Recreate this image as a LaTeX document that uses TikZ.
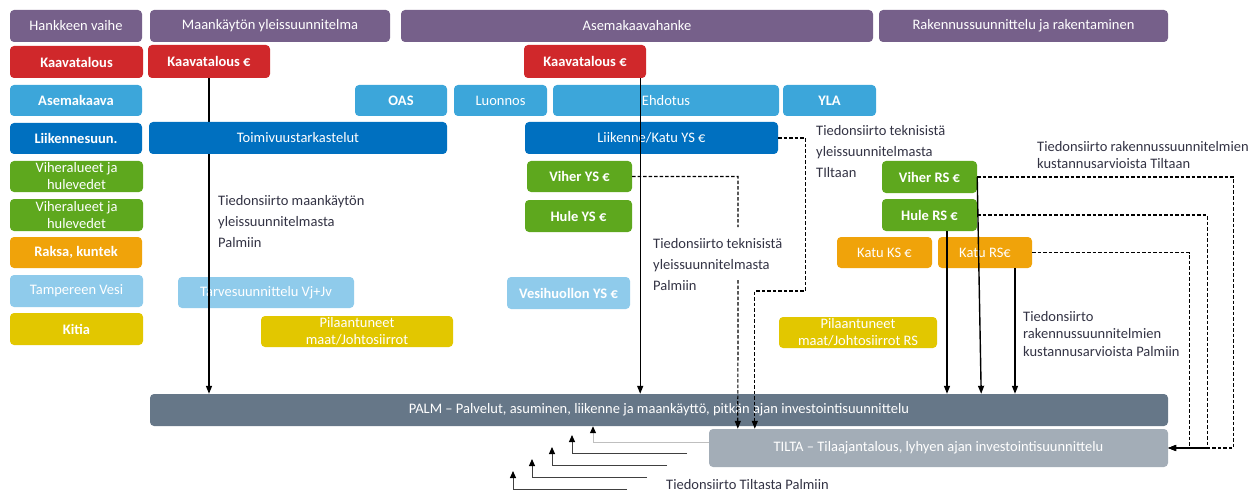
\documentclass[tikz,border=0pt]{standalone}
\usepackage{fontspec}
\setmainfont{Carlito}
\usetikzlibrary{arrows.meta}

\definecolor{phase}{RGB}{118,96,138}
\definecolor{kaava}{RGB}{208,40,43}
\definecolor{asema}{RGB}{60,166,218}
\definecolor{liik}{RGB}{0,112,192}
\definecolor{viher}{RGB}{94,168,30}
\definecolor{raksa}{RGB}{240,163,10}
\definecolor{vesi}{RGB}{143,203,235}
\definecolor{kitia}{RGB}{226,199,0}
\definecolor{palm}{RGB}{102,119,136}
\definecolor{tilta}{RGB}{163,173,183}
\definecolor{notetext}{RGB}{51,51,68}

\begin{document}
\begin{tikzpicture}[x=1pt, y=-1pt,
    box/.style={rounded corners=4pt, text=white, inner sep=0pt, align=center,
      minimum height=32pt, font=\fontsize{14.5}{17}\selectfont},
    bbox/.style={box, font=\fontsize{14.5}{17}\selectfont\bfseries},
    arr/.style={line width=1.4pt, -{Triangle[length=8pt,width=6pt]}},
    dasharr/.style={line width=1.2pt, dash pattern=on 3.5pt off 2pt,
      -{Triangle[length=8pt,width=6pt]}},
    stair/.style={line width=1pt, draw=darkgray, -{Triangle[length=7pt,width=6pt,black]}},
    note/.style={align=left, inner sep=0pt, anchor=north west, text=notetext,
      font=\fontsize{14.5}{21}\selectfont}]

  \useasboundingbox (0,0) rectangle (1256,492);

  % hankkeen vaiheet
  \node[box, fill=phase, minimum width=132pt] (vaihe) at (76,26) {Hankkeen vaihe};
  \node[box, fill=phase, minimum width=240pt] (mys) at (270,26) {Maankäytön yleissuunnitelma};
  \node[box, fill=phase, minimum width=472pt] (akhanke) at (637,26) {Asemakaavahanke};
  \node[box, fill=phase, minimum width=289pt] (raken) at (1023.5,26) {Rakennussuunnittelu ja rakentaminen};

  % vasen sarake
  \node[bbox, fill=kaava, minimum width=133pt] (kaavatal) at (76.5,62) {Kaavatalous};
  \node[bbox, fill=asema, minimum width=132pt, minimum height=31pt] (asemakaava) at (76,100.5) {Asemakaava};
  \node[bbox, fill=liik, minimum width=132pt, minimum height=31pt] (liikenne) at (76,138.5) {Liikennesuun.};
  \node[box, fill=viher, minimum width=133pt, minimum height=31pt] (viher1) at (76.5,176.5) {Viheralueet ja\\hulevedet};
  \node[box, fill=viher, minimum width=133pt] (viher2) at (76.5,215) {Viheralueet ja\\hulevedet};
  \node[bbox, fill=raksa, minimum width=132pt, minimum height=31pt] (raksa) at (76,252.5) {Raksa, kuntek};
  \node[box, fill=vesi, minimum width=133pt] (tvesi) at (76.5,291) {Tampereen Vesi};
  \node[bbox, fill=kitia, minimum width=133pt] (kitia) at (76.5,329) {Kitia};

  % maankaytön yleissuunnitelma
  \node[bbox, fill=kaava, minimum width=122pt, minimum height=33pt] (kaavaA) at (209,61.5) {Kaavatalous €};
  \node[box, fill=vesi, minimum width=176pt, minimum height=31pt] (tarve) at (266,292.5) {Tarvesuunnittelu Vj+Jv};
  \node[box, fill=kitia, minimum width=192pt, minimum height=31pt] (pilaA) at (357,331.5) {Pilaantuneet\\maat/Johtosiirrot};

  % asemakaavahanke
  \node[bbox, fill=kaava, minimum width=122pt, minimum height=33pt] (kaavaB) at (585,61.5) {Kaavatalous €};
  \node[bbox, fill=asema, minimum width=92pt, minimum height=31pt] (oas) at (401,100.5) {OAS};
  \node[box, fill=asema, minimum width=93pt, minimum height=31pt] (luonnos) at (500.5,100.5) {Luonnos};
  \node[box, fill=asema, minimum width=226pt, minimum height=31pt] (ehdotus) at (666,100.5) {Ehdotus};
  \node[bbox, fill=asema, minimum width=93pt, minimum height=31pt] (yla) at (829.5,100.5) {YLA};
  \node[box, fill=liik, minimum width=253pt] (katuys) at (651.5,138) {Liikenne/Katu YS €};
  \node[bbox, fill=viher, minimum width=105pt, minimum height=31pt] (viherys) at (579.5,176.5) {Viher YS €};
  \node[bbox, fill=viher, minimum width=107pt] (hulys) at (578.5,216) {Hule YS €};
  \node[bbox, fill=vesi, minimum width=123pt] (vhys) at (568.5,293) {Vesihuollon YS €};

  % rakennussuunnittelu
  \node[bbox, fill=viher, minimum width=95pt] (viherrs) at (929.5,177) {Viher RS €};
  \node[bbox, fill=viher, minimum width=95pt] (hulrs) at (929.5,215) {Hule RS €};
  \node[box, fill=raksa, minimum width=95pt, minimum height=31pt] (katuks) at (884.5,252.5) {Katu KS €};
  \node[box, fill=raksa, minimum width=94pt, minimum height=31pt] (katurs) at (985,252.5) {Katu RS€};
  \node[box, fill=kitia, minimum width=158pt, minimum height=31pt] (pilaB) at (858,332.5) {Pilaantuneet\\maat/Johtosiirrot RS};

  % PALM ja TILTA
  \node[box, fill=palm, minimum width=1018pt] (palm) at (659,410) {PALM -- Palvelut, asuminen, liikenne ja maankäyttö, pitkän ajan investointisuunnittelu};
  \node[box, fill=tilta, minimum width=459pt, minimum height=38pt] (tilta) at (938.5,448) {TILTA -- Tilaajantalous, lyhyen ajan investointisuunnittelu};

  % tiedonsiirrot Palmiin
  \draw[arr] (kaavaA.south) -- (kaavaA.south |- palm.north);
  \draw[arr] ([xshift=-6pt]kaavaB.south east) -- ([xshift=-6pt]kaavaB.south east |- palm.north);
  \draw[arr] ([xshift=17.5pt]hulrs.south) -- ([xshift=17.5pt]hulrs.south |- palm.north);
  \draw[arr] (viherrs.east) -- ([xshift=4pt]viherrs.east |- palm.north);
  \draw[arr] ([xshift=30pt]katurs.south) -- ([xshift=30pt]katurs.south |- palm.north);

  \node[box, fill=liik, minimum width=298pt] (toimivuus) at (298,138) {Toimivuustarkastelut};

  % tiedonsiirrot Tiltaan
  \coordinate (gaptop) at (738,227);
  \coordinate (gapbot) at (738,280);
  \draw[dasharr] (viherys.east) -| (gaptop) (gapbot) -- ([xshift=29pt]tilta.north west);
  \draw[dasharr] (katuys.east) -- ++(27,0) -- ++(0,153) -| ([xshift=46pt]tilta.north west);
  \draw[dasharr] (viherrs.east) -- ++(256,0) |- (tilta.east);
  \draw[dasharr] (hulrs.east) -- ++(230,0) |- (tilta.east);
  \draw[dasharr] (katurs.east) -- ++(157,0) |- (tilta.east);

  % Tiltasta Palmiin
  \draw[stair, draw=lightgray] ([yshift=6pt]tilta.west) -| ([xshift=-66pt]palm.south);
  \foreach \i/\sx/\sy/\ex/\ey in {1/687/453/572/435, 2/667/465/552/447, 3/647/477/532/459, 4/627/489/513/471}{
    \coordinate (from\i) at (\sx,\sy);
    \coordinate (to\i) at (\ex,\ey);
    \draw[stair] (from\i) -| (to\i);
  }

  % tekstit
  \node[note] (n1) at (218,195) {Tiedonsiirto maankäytön\\yleissuunnitelmasta\\Palmiin};
  \node[note] (n2) at (653,238) {Tiedonsiirto teknisistä\\yleissuunnitelmasta\\Palmiin};
  \node[note] (n3) at (816,125) {Tiedonsiirto teknisistä\\yleissuunnitelmasta\\TIltaan};
  \node[note, font=\fontsize{14.5}{17}\selectfont] (n4) at (1037,141) {Tiedonsiirto rakennussuunnitelmien\\kustannusarvioista Tiltaan};
  \node[note, font=\fontsize{14.5}{17.5}\selectfont] (n5) at (1023,311) {Tiedonsiirto\\rakennussuunnitelmien\\kustannusarvioista Palmiin};
  \node[note] (n6) at (666,479) {Tiedonsiirto Tiltasta Palmiin};

\end{tikzpicture}
\end{document}
